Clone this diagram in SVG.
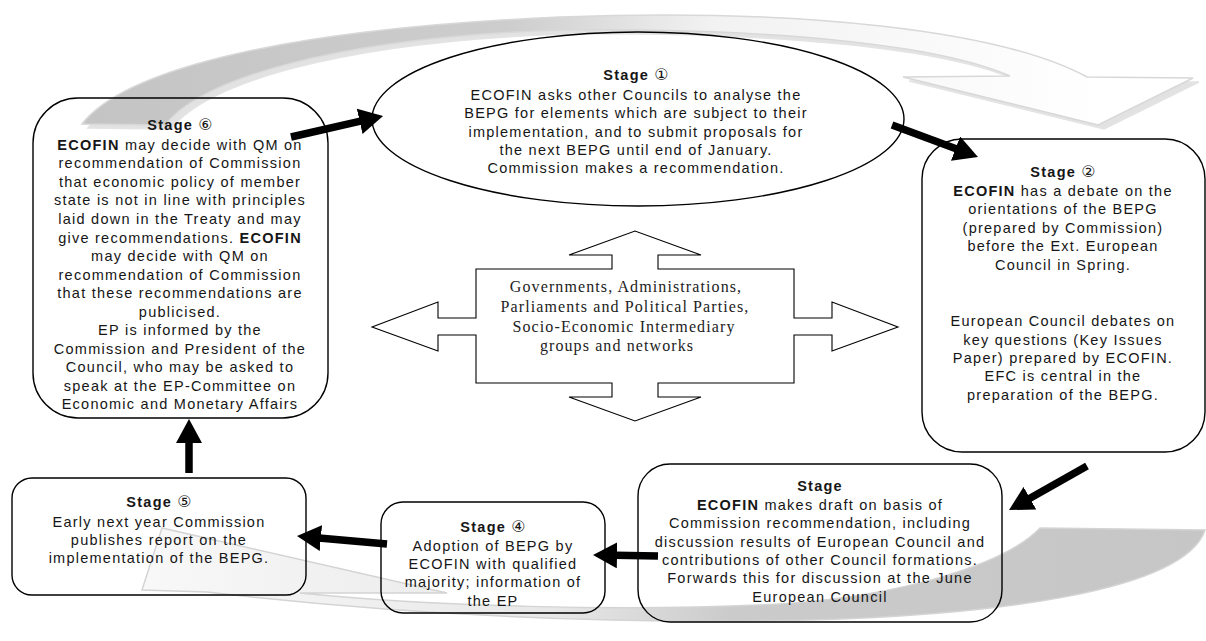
<svg xmlns="http://www.w3.org/2000/svg" width="1206" height="641" viewBox="0 0 1206 641">
<style>
.box{fill:none;stroke:#000;stroke-width:1.4}
.t{font-family:"Liberation Sans","DejaVu Sans",Arial,sans-serif;font-size:14.5px;letter-spacing:1.25px;fill:#161616;text-anchor:middle}
.b{font-weight:bold}
.n{font-family:"DejaVu Sans","Noto Sans",sans-serif;font-weight:normal;font-size:16px;letter-spacing:0}
.serif{font-family:"Liberation Serif","Times New Roman",serif;font-size:16px;letter-spacing:1.1px;fill:#222;text-anchor:middle}
.conn{stroke:#000;stroke-width:7.5;fill:none;marker-end:url(#ah)}
</style>
<defs>
<marker id="ah" markerUnits="userSpaceOnUse" markerWidth="26" markerHeight="26" refX="2" refY="13" orient="auto">
<path d="M0,0 L24,13 L0,26 Z" fill="#000"/>
</marker>
<linearGradient id="gTop" gradientUnits="userSpaceOnUse" x1="80" y1="0" x2="1100" y2="0">
<stop offset="0" stop-color="#c4c4c4"/>
<stop offset="0.42" stop-color="#cdcdcd"/>
<stop offset="0.62" stop-color="#f2f2f2"/>
<stop offset="1" stop-color="#ffffff"/>
</linearGradient>
<linearGradient id="gBot" gradientUnits="userSpaceOnUse" x1="1205" y1="0" x2="150" y2="0">
<stop offset="0" stop-color="#c6c6c6"/>
<stop offset="0.45" stop-color="#cbcbcb"/>
<stop offset="0.62" stop-color="#e8e8e8"/>
<stop offset="1" stop-color="#f8f8f8"/>
</linearGradient>
</defs>

<g id="swoosh-top">
<path d="M88,128 C126,79 266,34 566,21 C806,12 1006,34 1093,81 L1199,82 L1104,129 L909,81 L1016,80 C946,49 786,32 566,34 C336,42 206,84 171,129 Z" fill="#e2e2e2" stroke="#e4e4e4" stroke-width="1.5"/>
<path d="M82,124 C120,75 260,30 560,17 C800,8 1000,30 1087,77 L1193,78 L1098,125 L903,77 L1010,76 C940,45 780,28 560,30 C330,38 200,80 165,125 Z" fill="url(#gTop)" stroke="#d8d8d8" stroke-width="1.5"/>
</g>
<g id="swoosh-bottom">
<path d="M1205,530 C1185,590 1000,618 760,621 C560,623 380,612 207,592 L142,590 L162,528 L447,593 L300,593 C430,606 620,612 780,604 C900,596 1005,565 1040,528 Z" fill="url(#gBot)" stroke="#d4d4d4" stroke-width="1.5"/>
</g>

<g id="stage6">
<rect class="box" x="33" y="98" width="295" height="320" rx="45" ry="45"/>
<text class="t" x="180" y="129.5"><tspan class="b">Stage </tspan><tspan class="n">⑥</tspan></text>
<text class="t" x="180" y="149.5"><tspan class="b">ECOFIN</tspan> may decide with QM on</text>
<text class="t" x="180" y="168">recommendation of Commission</text>
<text class="t" x="180" y="186.5">that economic policy of member</text>
<text class="t" x="180" y="205">state is not in line with principles</text>
<text class="t" x="180" y="223.5">laid down in the Treaty and may</text>
<text class="t" x="180" y="242.5">give recommendations. <tspan class="b">ECOFIN</tspan></text>
<text class="t" x="180" y="261">may decide with QM on</text>
<text class="t" x="180" y="279.5">recommendation of Commission</text>
<text class="t" x="180" y="298">that these recommendations are</text>
<text class="t" x="180" y="316.5">publicised.</text>
<text class="t" x="180" y="335">EP is informed by the</text>
<text class="t" x="180" y="353.5">Commission and President of the</text>
<text class="t" x="180" y="372">Council, who may be asked to</text>
<text class="t" x="180" y="390.5">speak at the EP-Committee on</text>
<text class="t" x="180" y="409">Economic and Monetary Affairs</text>
</g>

<g id="stage1">
<ellipse class="box" cx="638" cy="119" rx="266" ry="87"/>
<text class="t" x="636" y="79.5"><tspan class="b">Stage </tspan><tspan class="n">①</tspan></text>
<text class="t" x="636" y="100">ECOFIN asks other Councils to analyse the</text>
<text class="t" x="636" y="118.3">BEPG for elements which are subject to their</text>
<text class="t" x="636" y="136.7">implementation, and to submit proposals for</text>
<text class="t" x="636" y="155">the next BEPG until end of January.</text>
<text class="t" x="636" y="173.3">Commission makes a recommendation.</text>
</g>

<g id="stage2">
<rect class="box" x="922" y="139" width="283" height="313" rx="40" ry="40"/>
<text class="t" x="1063" y="176.7"><tspan class="b">Stage </tspan><tspan class="n">②</tspan></text>
<text class="t" x="1063" y="195.5"><tspan class="b">ECOFIN</tspan> has a debate on the</text>
<text class="t" x="1063" y="214">orientations of the BEPG</text>
<text class="t" x="1063" y="232.5">(prepared by Commission)</text>
<text class="t" x="1063" y="251">before the Ext. European</text>
<text class="t" x="1063" y="269.5">Council in Spring.</text>
<text class="t" x="1063" y="326">European Council debates on</text>
<text class="t" x="1063" y="344.5">key questions (Key Issues</text>
<text class="t" x="1063" y="363">Paper) prepared by ECOFIN.</text>
<text class="t" x="1063" y="381">EFC is central in the</text>
<text class="t" x="1063" y="399.5">preparation of the BEPG.</text>
</g>

<g id="stage3">
<rect class="box" x="638" y="464" width="364" height="158" rx="32" ry="32"/>
<text class="t b" x="820" y="490.7">Stage</text>
<text class="t" x="820" y="510"><tspan class="b">ECOFIN</tspan> makes draft on basis of</text>
<text class="t" x="820" y="528.3">Commission recommendation, including</text>
<text class="t" x="820" y="546.7">discussion results of European Council and</text>
<text class="t" x="820" y="565">contributions of other Council formations.</text>
<text class="t" x="820" y="583.3">Forwards this for discussion at the June</text>
<text class="t" x="820" y="601.7">European Council</text>
</g>

<g id="stage4">
<rect class="box" x="381" y="502" width="224" height="111" rx="22" ry="22"/>
<text class="t" x="493" y="531.7"><tspan class="b">Stage </tspan><tspan class="n">④</tspan></text>
<text class="t" x="493" y="550.5">Adoption of BEPG by</text>
<text class="t" x="493" y="569">ECOFIN with qualified</text>
<text class="t" x="493" y="587.3">majority; information of</text>
<text class="t" x="493" y="605.7">the EP</text>
</g>

<g id="stage5">
<rect class="box" x="12" y="478" width="294" height="117" rx="20" ry="20"/>
<text class="t" x="159" y="507.3"><tspan class="b">Stage </tspan><tspan class="n">⑤</tspan></text>
<text class="t" x="159" y="526.5">Early next year Commission</text>
<text class="t" x="159" y="545">publishes report on the</text>
<text class="t" x="159" y="563">implementation of the BEPG.</text>
</g>

<g id="actors">
<path d="M372,327 L438,302 L438,318 L476,318 L476,269 L612,269 L612,255 L569,255 L635,231 L701,255 L658,255 L658,269 L794,269 L794,318 L832,318 L832,302 L898,327 L832,351 L832,335 L794,335 L794,383 L658,383 L658,397 L701,397 L635,421 L569,397 L612,397 L612,383 L476,383 L476,335 L438,335 L438,351 Z" fill="#fff" stroke="#000" stroke-width="1.1"/>
<text class="serif" x="626" y="292">Governments, Administrations,</text>
<text class="serif" x="625" y="312">Parliaments and Political Parties,</text>
<text class="serif" x="624" y="331.5">Socio-Economic Intermediary</text>
<text class="serif" x="617" y="351">groups and networks</text>
</g>

<g id="connectors">
<line class="conn" x1="291" y1="137" x2="361.6" y2="120.9"/>
<line class="conn" x1="892" y1="125" x2="957.4" y2="149.3"/>
<line class="conn" x1="1087" y1="466" x2="1028.2" y2="499.2"/>
<line class="conn" x1="658" y1="556" x2="615" y2="555.3"/>
<line class="conn" x1="387" y1="544" x2="318.9" y2="537.9"/>
<line class="conn" x1="189" y1="473" x2="189" y2="441"/>
</g>
</svg>
